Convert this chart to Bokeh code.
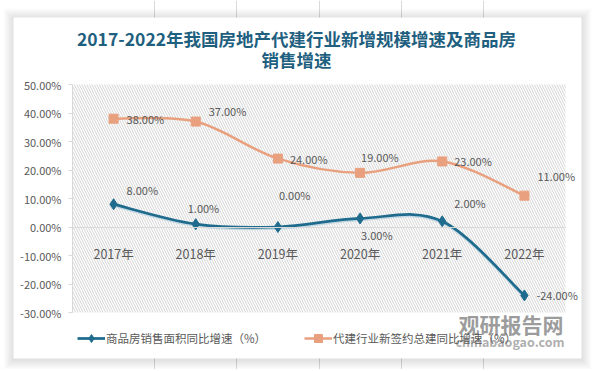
from bokeh.plotting import figure
from bokeh.core.properties import value
from bokeh.models import (Range1d, FixedTicker, PrintfTickFormatter,
                          BoxAnnotation, Legend, LegendItem, LabelSet, Label, ColumnDataSource)
from bokeh.embed import file_html
from bokeh.resources import INLINE

# ---------------- data ----------------
categories = ["2017年", "2018年", "2019年", "2020年", "2021年", "2022年"]
sales_area_growth = [8, 1, 0, 3, 2, -24]          # 商品房销售面积同比增速（%）
agent_build_growth = [38, 37, 24, 19, 23, 11]     # 代建行业新签约总建同比增速（%）
y_min, y_max, y_step = -30, 50, 10
title_text = "2017-2022年我国房地产代建行业新增规模增速及商品房"
title_text2 = "销售增速"
legend_names = ["商品房销售面积同比增速（%）", "代建行业新签约总建同比增速（%）"]
watermark = ["观研报告网", "chinabaogao.com"]

# label offsets (style only, px)
blue_dx = [13, -8, 1, 1, 12, 12]
blue_dy = [14, 16, 32, -17, 18, 0]
orange_dx = [13, 13, 12, 1, 12, 13]
orange_dy = [0, 11, 0, 16, 0, 20]

BLUE = "#1f6b8e"
ORANGE = "#e9a07e"
GRAY_TXT = "#595959"
GRID = "#d9d9d9"
FONT = "Noto Sans CJK SC"

FIG_W, FIG_H = 594, 369         # whole figure (page area)
OX, OY = 13, 17                 # card offset inside figure
W, H = 568, 341                 # card size
PLOT_L, PLOT_R = 59 + OX, 552 + OX   # plot-area pixel extent inside figure
PLOT_T, PLOT_B = 67 + OY, 295 + OY

n = len(categories)
xs = [i + 1 for i in range(n)]
x_lo, x_hi = xs[0] - 0.5, xs[-1] + 0.5
SX = (PLOT_R - PLOT_L) / (x_hi - x_lo)
SY = (PLOT_B - PLOT_T) / (y_max - y_min)
X0 = x_lo - PLOT_L / SX
X1 = x_hi + (FIG_W - PLOT_R) / SX
Y1 = y_max + PLOT_T / SY
Y0 = y_min - (FIG_H - PLOT_B) / SY


def fx(px):   # card pixel x -> data
    return X0 + (px + OX) / SX


def fy(py):   # card pixel y -> data
    return Y1 - (py + OY) / SY


p = figure(width=FIG_W, height=FIG_H, output_backend="svg", toolbar_location=None,
           x_range=Range1d(X0, X1), y_range=Range1d(Y0, Y1),
           min_border=0, min_border_left=0, min_border_right=0,
           min_border_top=0, min_border_bottom=0)
p.outline_line_color = None
p.background_fill_color = "white"
p.border_fill_color = "white"

# card shadow + card
for k in range(10, 0, -1):
    p.add_layout(BoxAnnotation(left=fx(-k), right=fx(W + k), top=fy(-k + 1), bottom=fy(H + k + 1),
                               fill_color="black", fill_alpha=0.012, line_color=None, level="underlay"))
p.add_layout(BoxAnnotation(left=fx(0), right=fx(W), top=fy(0), bottom=fy(H),
                           fill_color="white", fill_alpha=1, line_color=None, level="underlay"))

# hatched plot area
p.add_layout(BoxAnnotation(left=x_lo, right=x_hi, bottom=y_min, top=y_max,
                           fill_color=None, fill_alpha=0, line_color=None,
                           hatch_pattern="\\", hatch_color="#d4d4d4", hatch_scale=5,
                           hatch_weight=1, level="underlay"))

# grids
p.ygrid.grid_line_color = None
p.xgrid.ticker = FixedTicker(ticks=[x + 0.5 for x in xs[:-1]])
p.xgrid.bounds = (y_min, y_max)
p.xgrid.grid_line_color = GRID
p.xgrid.grid_line_width = 1

# y axis
p.yaxis.fixed_location = x_lo
p.yaxis.bounds = (y_min, y_max)
p.yaxis.ticker = FixedTicker(ticks=list(range(y_min, y_max + 1, y_step)))
p.yaxis.formatter = PrintfTickFormatter(format="%.2f%%")
p.yaxis.axis_line_color = GRID
p.yaxis.major_tick_line_color = GRID
p.yaxis.major_tick_out = 4
p.yaxis.major_tick_in = 0
p.yaxis.minor_tick_line_color = None
p.yaxis.major_label_text_color = GRAY_TXT
p.yaxis.major_label_text_font = FONT
p.yaxis.major_label_text_font_size = "11px"
p.yaxis.major_label_standoff = 7

# x axis at zero
p.xaxis.fixed_location = 0
p.xaxis.bounds = (x_lo, x_hi)
p.xaxis.ticker = FixedTicker(ticks=xs)
p.xaxis.major_label_overrides = {x: c for x, c in zip(xs, categories)}
p.xaxis.axis_line_color = GRID
p.xaxis.major_tick_line_color = None
p.xaxis.minor_tick_line_color = None
p.xaxis.major_label_text_color = GRAY_TXT
p.xaxis.major_label_text_font = FONT
p.xaxis.major_label_text_font_size = "12.5px"
p.xaxis.major_label_standoff = 11


def smooth_segments(x, y, t=1.0 / 6.0):
    seg = dict(x0=[], y0=[], x1=[], y1=[], cx0=[], cy0=[], cx1=[], cy1=[])
    m = len(x)
    for i in range(m - 1):
        xp, yp = (x[i - 1], y[i - 1]) if i > 0 else (x[i], y[i])
        xn, yn = (x[i + 2], y[i + 2]) if i + 2 < m else (x[i + 1], y[i + 1])
        seg["x0"].append(x[i]); seg["y0"].append(y[i])
        seg["x1"].append(x[i + 1]); seg["y1"].append(y[i + 1])
        seg["cx0"].append(x[i] + (x[i + 1] - xp) * t)
        seg["cy0"].append(y[i] + (y[i + 1] - yp) * t)
        seg["cx1"].append(x[i + 1] - (xn - x[i]) * t)
        seg["cy1"].append(y[i + 1] - (yn - y[i]) * t)
    return seg


bs = smooth_segments(xs, sales_area_growth)
os_ = smooth_segments(xs, agent_build_growth)
sh = 1.6 / SY  # shadow offset (px -> data)
p.bezier(x0=bs["x0"], y0=[v - sh for v in bs["y0"]], x1=bs["x1"], y1=[v - sh for v in bs["y1"]],
         cx0=bs["cx0"], cy0=[v - sh for v in bs["cy0"]], cx1=bs["cx1"], cy1=[v - sh for v in bs["cy1"]],
         line_color="#a9c9da", line_width=2.5, line_alpha=0.6)
r_or_line = p.bezier(source=ColumnDataSource(os_), x0="x0", y0="y0", x1="x1", y1="y1",
                     cx0="cx0", cy0="cy0", cx1="cx1", cy1="cy1", line_color=ORANGE, line_width=2.5)
r_bl_line = p.bezier(source=ColumnDataSource(bs), x0="x0", y0="y0", x1="x1", y1="y1",
                     cx0="cx0", cy0="cy0", cx1="cx1", cy1="cy1", line_color=BLUE, line_width=2.75)
r_or_pts = p.scatter(xs, agent_build_growth, marker="square", size=9, fill_color=ORANGE, line_color=ORANGE)
r_bl_pts = p.scatter(xs, sales_area_growth, marker="diamond", size=11, fill_color=BLUE, line_color=BLUE)

# data labels
blue_src = ColumnDataSource(dict(x=xs, y=sales_area_growth,
                                 t=["%.2f%%" % v for v in sales_area_growth],
                                 dx=blue_dx, dy=blue_dy))
orange_src = ColumnDataSource(dict(x=xs, y=agent_build_growth,
                                   t=["%.2f%%" % v for v in agent_build_growth],
                                   dx=orange_dx, dy=orange_dy))
for src in (orange_src, blue_src):
    p.add_layout(LabelSet(x="x", y="y", text="t", source=src, x_offset="dx", y_offset="dy",
                          text_color=GRAY_TXT, text_font=value(FONT), text_font_size="11px",
                          text_baseline="middle", text_align="left"))

# watermark (drawn before legend so legend text sits on top)
p.add_layout(Label(x=fx(445), y=fy(306), text=watermark[0],
                   text_align="left", text_baseline="middle", text_color="#8a8a8a", text_alpha=0.85,
                   text_font=FONT, text_font_size="21px", text_font_style="bold"))
p.add_layout(Label(x=fx(442), y=fy(324), text=watermark[1],
                   text_align="left", text_baseline="middle", text_color="#a0a0a0", text_alpha=0.85,
                   text_font=FONT, text_font_size="12.5px", text_font_style="bold"))

# legend
legend = Legend(items=[LegendItem(label=legend_names[0], renderers=[r_bl_line, r_bl_pts]),
                       LegendItem(label=legend_names[1], renderers=[r_or_line, r_or_pts])],
                orientation="horizontal", location=(64 + OX, FIG_H - OY - 331), padding=0, margin=0,
                spacing=38, glyph_width=28, glyph_height=20, label_standoff=1,
                label_text_color=GRAY_TXT, label_text_font=FONT, label_text_font_size="11.5px",
                border_line_color=None, background_fill_alpha=0)
p.add_layout(legend, "center")

# title
for txt, py in ((title_text, 21), (title_text2, 42)):
    p.add_layout(Label(x=fx(283), y=fy(py), text=txt,
                       text_align="center", text_baseline="middle", text_color="#1f5f80",
                       text_font=FONT, text_font_size="17.5px", text_font_style="bold"))

open("out.html", "w").write(file_html(p, INLINE))
